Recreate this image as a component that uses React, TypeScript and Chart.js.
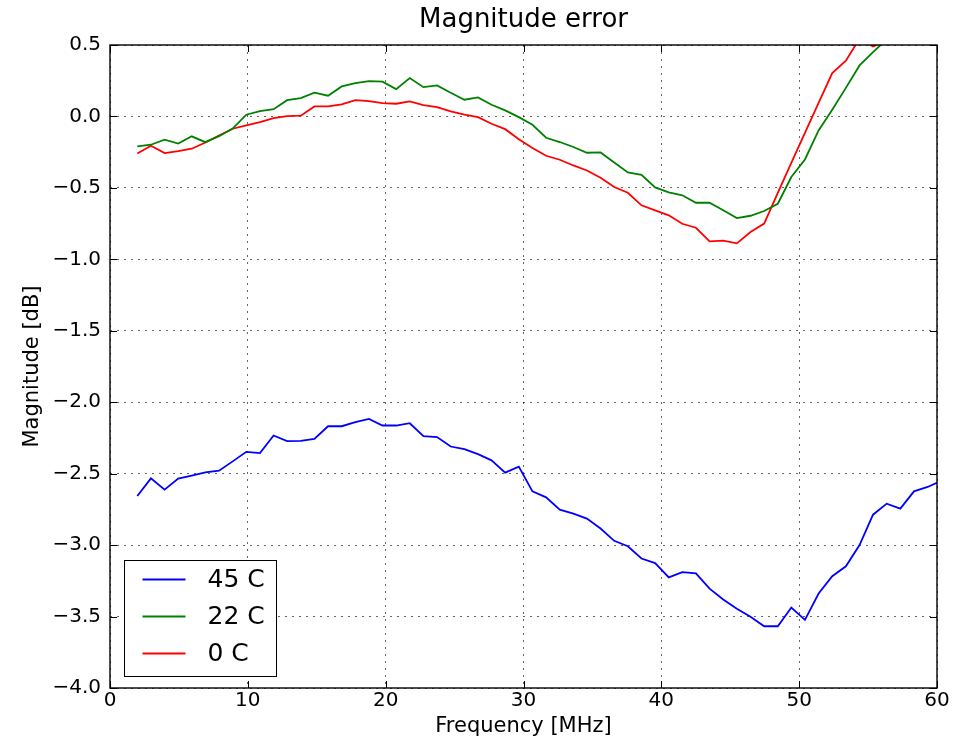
import { useEffect, useRef } from 'react';
import { Chart, registerables } from 'chart.js';

Chart.register(...registerables);

const FONT = '"DejaVu Sans", "Liberation Sans", sans-serif';

const chartTitle = 'Magnitude error';
const xAxisTitle = 'Frequency [MHz]';
const yAxisTitle = 'Magnitude [dB]';

const frequencies = [
  1.98, 2.97, 3.96, 4.95, 5.93, 6.92, 7.91, 8.90, 9.89, 10.88,
  11.87, 12.85, 13.84, 14.83, 15.82, 16.81, 17.80, 18.79, 19.77, 20.76,
  21.75, 22.74, 23.73, 24.72, 25.71, 26.70, 27.68, 28.67, 29.66, 30.65,
  31.64, 32.63, 33.62, 34.60, 35.59, 36.58, 37.57, 38.56, 39.55, 40.54,
  41.52, 42.51, 43.50, 44.49, 45.48, 46.47, 47.46, 48.45, 49.43, 50.42,
  51.41, 52.40, 53.39, 54.38, 55.36, 56.35, 57.34, 58.33, 59.32, 60.31,
];

const err45C = [
  -2.656, -2.533, -2.612, -2.535, -2.514, -2.491, -2.479, -2.414, -2.347, -2.356,
  -2.233, -2.272, -2.270, -2.256, -2.168, -2.168, -2.140, -2.117, -2.163, -2.163,
  -2.147, -2.237, -2.244, -2.310, -2.328, -2.363, -2.407, -2.493, -2.451, -2.624,
  -2.666, -2.752, -2.779, -2.814, -2.884, -2.970, -3.008, -3.094, -3.126, -3.226,
  -3.189, -3.198, -3.305, -3.381, -3.446, -3.502, -3.568, -3.568, -3.437, -3.523,
  -3.339, -3.218, -3.148, -3.000, -2.787, -2.710, -2.745, -2.624, -2.593, -2.550,
];

const err22C = [
  -0.210, -0.198, -0.162, -0.190, -0.139, -0.180, -0.138, -0.085, 0.012, 0.037,
  0.051, 0.114, 0.128, 0.166, 0.145, 0.210, 0.233, 0.247, 0.243, 0.191,
  0.269, 0.205, 0.217, 0.166, 0.117, 0.133, 0.082, 0.042, -0.005, -0.058,
  -0.149, -0.179, -0.214, -0.254, -0.252, -0.322, -0.392, -0.408, -0.497, -0.531,
  -0.552, -0.604, -0.604, -0.657, -0.711, -0.695, -0.662, -0.611, -0.424, -0.301,
  -0.098, 0.047, 0.200, 0.357, 0.450, 0.540, 0.640, 0.740, 0.840, 0.940,
];

const err0C = [
  -0.259, -0.205, -0.256, -0.242, -0.226, -0.182, -0.133, -0.086, -0.063, -0.040,
  -0.012, 0.002, 0.005, 0.070, 0.070, 0.084, 0.114, 0.107, 0.093, 0.089,
  0.106, 0.079, 0.065, 0.035, 0.012, -0.005, -0.051, -0.089, -0.160, -0.221,
  -0.275, -0.303, -0.343, -0.378, -0.429, -0.494, -0.534, -0.622, -0.657, -0.692,
  -0.751, -0.779, -0.874, -0.869, -0.888, -0.809, -0.750, -0.535, -0.325, -0.115,
  0.095, 0.303, 0.390, 0.545, 0.490, 0.530, 0.650, 0.750, 0.850, 0.950,
];

const seriesNames = ['45 C', '22 C', '0 C'];
const seriesValues = [err45C, err22C, err0C];
const seriesColors = ['#0000ff', '#008000', '#ff0000'];

const xTicks = [0, 10, 20, 30, 40, 50, 60];
const yTicks = [0.5, 0.0, -0.5, -1.0, -1.5, -2.0, -2.5, -3.0, -3.5, -4.0];

const fmtY = (v: number) => (v < -1e-9 ? '\u2212' : '') + Math.abs(v).toFixed(1);

const frameTicksLegend = {
  id: 'frameTicksLegend',
  afterDatasetsDraw(chart: any) {
    const { ctx, chartArea: a, scales } = chart;
    ctx.save();
    // inward ticks on all four sides
    const L = 7;
    ctx.strokeStyle = '#000';
    ctx.lineWidth = 1;
    ctx.beginPath();
    for (const t of xTicks) {
      const px = Math.round(scales.x.getPixelForValue(t)) + 0.5;
      ctx.moveTo(px, a.bottom);
      ctx.lineTo(px, a.bottom - L);
      ctx.moveTo(px, a.top);
      ctx.lineTo(px, a.top + L);
    }
    for (const t of yTicks) {
      const py = Math.round(scales.y.getPixelForValue(t)) + 0.5;
      ctx.moveTo(a.left, py);
      ctx.lineTo(a.left + L, py);
      ctx.moveTo(a.right, py);
      ctx.lineTo(a.right - L, py);
    }
    ctx.stroke();
    // frame
    ctx.lineWidth = 1.4;
    ctx.strokeRect(a.left, a.top, a.right - a.left, a.bottom - a.top);

    // title centred over the plot area
    ctx.fillStyle = '#000';
    ctx.font = `26px ${FONT}`;
    ctx.textAlign = 'center';
    ctx.textBaseline = 'middle';
    ctx.fillText(chartTitle, (a.left + a.right) / 2, 20);

    // legend, lower left inside the axes
    const bw = 152;
    const bh = 116;
    const bx = a.left + 14.5;
    const by = a.bottom - 12 - bh + 0.5;
    ctx.fillStyle = '#ffffff';
    ctx.fillRect(bx, by, bw, bh);
    ctx.lineWidth = 1;
    ctx.strokeStyle = '#000';
    ctx.strokeRect(bx, by, bw, bh);
    ctx.font = `25px ${FONT}`;
    ctx.textBaseline = 'middle';
    ctx.textAlign = 'left';
    chart.data.datasets.forEach((ds: any, i: number) => {
      const y = by + 19 + i * 37;
      ctx.strokeStyle = ds.borderColor;
      ctx.lineWidth = 1.8;
      ctx.beginPath();
      ctx.moveTo(bx + 18, y);
      ctx.lineTo(bx + 61, y);
      ctx.stroke();
      ctx.fillStyle = '#000';
      ctx.fillText(ds.label, bx + 83, y + 1);
    });
    ctx.restore();
  },
};

export default function App() {
  const canvasRef = useRef<HTMLCanvasElement | null>(null);

  useEffect(() => {
    if (!canvasRef.current) return;
    const datasets = seriesNames.map((name, k) => ({
      label: name,
      data: frequencies.map((f, i) => ({ x: f, y: seriesValues[k][i] })),
      borderColor: seriesColors[k],
      backgroundColor: seriesColors[k],
      borderWidth: 1.8,
      pointRadius: 0,
      tension: 0,
      fill: false,
      clip: 0,
    }));

    const chart = new Chart(canvasRef.current, {
      type: 'line',
      data: { datasets },
      plugins: [frameTicksLegend],
      options: {
        responsive: false,
        animation: false,
        devicePixelRatio: 1,
        layout: { padding: { left: 0, right: 28, top: 45, bottom: 0 } },
        plugins: {
          legend: { display: false },
          tooltip: { enabled: false },
          title: { display: false },
        },
        scales: {
          x: {
            type: 'linear',
            min: 0,
            max: 60,
            afterFit: (s: any) => { s.height = 53; },
            afterBuildTicks: (s: any) => { s.ticks = xTicks.map((v) => ({ value: v })); },
            grid: { color: 'rgba(0,0,0,0.6)', lineWidth: 1, drawTicks: false },
            border: { display: false, dash: [2, 5] },
            ticks: {
              color: '#000',
              padding: 1,
              maxRotation: 0,
              font: { family: FONT, size: 20 },
              callback: (v: any) => String(v),
            },
            title: {
              display: true,
              text: xAxisTitle,
              color: '#000',
              font: { family: FONT, size: 21 },
              padding: { top: 0, bottom: 1.4 },
            },
          },
          y: {
            type: 'linear',
            min: -4,
            max: 0.5,
            afterFit: (s: any) => { s.width = 110; },
            afterBuildTicks: (s: any) => { s.ticks = yTicks.map((v) => ({ value: v })); },
            grid: { color: 'rgba(0,0,0,0.6)', lineWidth: 1, drawTicks: false },
            border: { display: false, dash: [2, 5] },
            ticks: {
              color: '#000',
              padding: 9,
              font: { family: FONT, size: 20 },
              callback: (v: any) => fmtY(Number(v)),
            },
            title: {
              display: true,
              text: yAxisTitle,
              color: '#000',
              font: { family: FONT, size: 21 },
              padding: { top: 20, bottom: 0 },
            },
          },
        },
      } as any,
    });
    return () => chart.destroy();
  }, []);

  return (
    <div style={{ position: 'absolute', left: 0, top: 0, width: 965, height: 741, background: '#fff' }}>
      <canvas ref={canvasRef} width={965} height={741} style={{ display: 'block' }} />
    </div>
  );
}
